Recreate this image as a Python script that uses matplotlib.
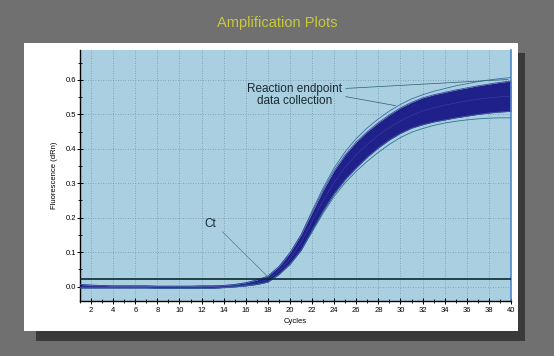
import numpy as np
import matplotlib.pyplot as plt
from matplotlib.patches import Rectangle

plt.rcParams["font.family"] = ["Liberation Sans", "DejaVu Sans"]

cycles = np.arange(1, 41)

# central amplification curve (dRn) per cycle
mid = [0.001, 0.001, 0.0, 0.0, 0.0, 0.0, 0.0, -0.001, -0.001, -0.002,
       -0.002, -0.002, -0.001, 0.0, 0.002, 0.005, 0.011, 0.02, 0.045, 0.08,
       0.128, 0.19, 0.25, 0.303, 0.347, 0.383, 0.413, 0.44, 0.462, 0.481,
       0.497, 0.51, 0.519, 0.527, 0.533, 0.539, 0.544, 0.548, 0.551, 0.553]
# upper edge of the main bundle
upper = [0.006, 0.004, 0.003, 0.002, 0.002, 0.002, 0.002, 0.001, 0.001, 0.001,
         0.001, 0.002, 0.002, 0.003, 0.006, 0.011, 0.019, 0.03, 0.058, 0.098,
         0.15, 0.215, 0.28, 0.337, 0.383, 0.42, 0.45, 0.476, 0.499, 0.519,
         0.535, 0.548, 0.557, 0.564, 0.571, 0.577, 0.583, 0.588, 0.593, 0.597]
# lower edge of the main bundle
lower = [-0.004, -0.004, -0.004, -0.004, -0.004, -0.004, -0.004, -0.005, -0.005, -0.005,
         -0.005, -0.005, -0.005, -0.003, -0.001, 0.002, 0.006, 0.013, 0.035, 0.065,
         0.105, 0.163, 0.22, 0.27, 0.311, 0.345, 0.376, 0.403, 0.426, 0.445,
         0.46, 0.47, 0.478, 0.484, 0.49, 0.495, 0.50, 0.504, 0.507, 0.509]
# stray wells just outside the bundle
hi_outlier = [0.006, 0.004, 0.003, 0.002, 0.002, 0.002, 0.002, 0.001, 0.001, 0.001,
              0.001, 0.002, 0.002, 0.003, 0.006, 0.011, 0.019, 0.03, 0.058, 0.098,
              0.15, 0.22, 0.287, 0.345, 0.392, 0.43, 0.461, 0.487, 0.51, 0.529,
              0.545, 0.557, 0.567, 0.575, 0.583, 0.589, 0.595, 0.60, 0.604, 0.607]
lo_outlier = [-0.004, -0.004, -0.004, -0.004, -0.004, -0.004, -0.004, -0.005, -0.005, -0.005,
              -0.005, -0.005, -0.005, -0.003, -0.001, 0.002, 0.006, 0.013, 0.035, 0.065,
              0.105, 0.158, 0.213, 0.262, 0.302, 0.335, 0.364, 0.39, 0.413, 0.433,
              0.448, 0.459, 0.468, 0.475, 0.48, 0.484, 0.487, 0.489, 0.49, 0.49]
threshold = 0.022

navy = "#20208a"

fig = plt.figure(figsize=(5.54, 3.56), dpi=100, facecolor="#707070")
fig.patches.append(Rectangle((0.065, 0.042), 0.883, 0.809, transform=fig.transFigure,
                             facecolor="#3a3a3a", edgecolor="none", zorder=-2))
fig.patches.append(Rectangle((0.0433, 0.0702), 0.8917, 0.809, transform=fig.transFigure,
                             facecolor="white", edgecolor="none", zorder=-1))
fig.text(0.5, 0.935, "Amplification Plots", ha="center", va="center",
         color="#c8c83c", fontsize=10.5)

ax = fig.add_axes([0.1444, 0.1545, 0.778, 0.705])
ax.set_facecolor("#a9cfe0")

ax.fill_between(cycles, lower, upper, color=navy, lw=0, zorder=2)
ax.plot(cycles, hi_outlier, color="#3d6fa8", lw=0.6, zorder=3)
ax.plot(cycles, lo_outlier, color="#2f7590", lw=0.6, zorder=3)
ax.plot(cycles, upper, color="#3a4aa0", lw=0.6, zorder=3)
ax.plot(cycles, lower, color="#3a5a9a", lw=0.6, zorder=3)
ax.plot(cycles, mid, color="#4a4ab0", lw=0.4, alpha=0.7, zorder=3)
ax.axhline(threshold, color="#0a2a33", lw=1.2, zorder=4)

ax.annotate("", xy=(40, 0.602), xytext=(24.8, 0.575),
            arrowprops=dict(arrowstyle="-", color="#2a6070", lw=0.5))
ax.annotate("", xy=(29.8, 0.524), xytext=(24.8, 0.553),
            arrowprops=dict(arrowstyle="-", color="#2a6070", lw=0.5))
ax.text(20.4, 0.557, "Reaction endpoint\ndata collection", ha="center", va="center",
        fontsize=8.5, color="#1a2a30", linespacing=1.05)
ax.annotate("", xy=(18.2, 0.022), xytext=(13.7, 0.165),
            arrowprops=dict(arrowstyle="-", color="#5a7a88", lw=0.5))
ax.text(12.8, 0.181, "Ct", ha="center", va="center", fontsize=8.5, color="#1a2a30")

ax.set_xlim(1, 40)
ax.set_ylim(-0.042, 0.687)
ax.set_xticks(np.arange(2, 41, 2))
ax.set_xticks(np.arange(1, 41, 1), minor=True)
ax.set_yticks(np.arange(0, 0.61, 0.1))
ax.set_yticks(np.arange(0.05, 0.66, 0.1), minor=True)
ax.set_yticklabels(["0.0", "0.1", "0.2", "0.3", "0.4", "0.5", "0.6"])
ax.tick_params(direction="inout", labelsize=5.5, length=4, width=0.7)
ax.tick_params(axis="y", pad=1)
ax.tick_params(axis="x", pad=2)
ax.tick_params(which="minor", direction="inout", length=3, width=0.6)
ax.grid(True, color="#7497a8", linestyle=(0, (1, 2)), lw=0.6)
ax.set_axisbelow(True)

ax.spines["top"].set_visible(False)
ax.spines["right"].set_color("#4f86c8")
ax.spines["right"].set_linewidth(1.2)
ax.spines["left"].set_linewidth(1.0)
ax.spines["bottom"].set_linewidth(1.0)

ax.set_xlabel("Cycles", fontsize=5.5)
ax.xaxis.set_label_coords(0.5, -0.068)
ax.set_ylabel("Fluorescence (dRn)", fontsize=5.5)
ax.yaxis.set_label_coords(-0.051, 0.5)

fig.savefig("out.png", dpi=100, facecolor=fig.get_facecolor())
